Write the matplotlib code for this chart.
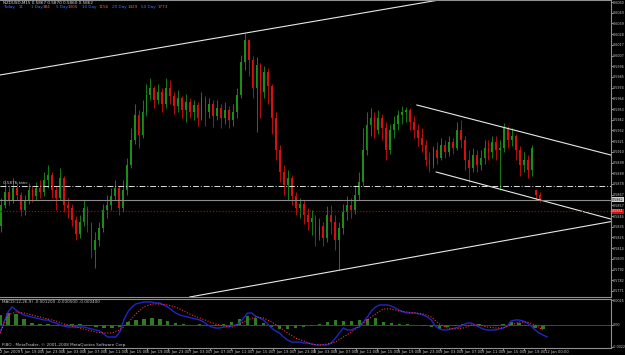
import numpy as np
import matplotlib.pyplot as plt

plt.rcParams["font.family"] = ["Liberation Sans Narrow", "DejaVu Sans"]

# NZDUSD M15 chart, one candle here = 3 M15 bars (45 min)
first_open = 0.5836
session_open = {136: 0.5872}  # Monday open after the weekend gap

close = [0.5857, 0.5870, 0.5862, 0.5874, 0.5867, 0.5852, 0.5862, 0.5872, 0.5866, 0.5874,
         0.5870, 0.5882, 0.5887, 0.5872, 0.5864, 0.5884, 0.5857, 0.5854, 0.5842, 0.5828,
         0.5840, 0.5854, 0.5837, 0.5812, 0.5822, 0.5834, 0.5852, 0.5857, 0.5866, 0.5874,
         0.5854, 0.5872, 0.5897, 0.5922, 0.5947, 0.5927, 0.5950, 0.5967, 0.5974, 0.5962,
         0.5970, 0.5958, 0.5974, 0.5966, 0.5956, 0.5964, 0.5952, 0.5960, 0.5950, 0.5957,
         0.5944, 0.5964, 0.5950, 0.5958, 0.5946, 0.5954, 0.5944, 0.5952, 0.5942, 0.5950,
         0.5967, 0.6000, 0.6022, 0.6002, 0.5974, 0.5997, 0.5970, 0.5990, 0.5976, 0.5944,
         0.5912, 0.5890, 0.5877, 0.5884, 0.5866, 0.5854, 0.5858, 0.5847, 0.5840, 0.5844,
         0.5827, 0.5836, 0.5824, 0.5847, 0.5840, 0.5822, 0.5834, 0.5850, 0.5857, 0.5852,
         0.5867, 0.5880, 0.5912, 0.5937, 0.5944, 0.5932, 0.5944, 0.5934, 0.5912, 0.5932,
         0.5938, 0.5947, 0.5950, 0.5952, 0.5940, 0.5932, 0.5924, 0.5917, 0.5902, 0.5897,
         0.5912, 0.5904, 0.5917, 0.5910, 0.5920, 0.5914, 0.5932, 0.5922, 0.5902, 0.5894,
         0.5907, 0.5897, 0.5904, 0.5914, 0.5910, 0.5920, 0.5912, 0.5914, 0.5934, 0.5922,
         0.5926, 0.5912, 0.5897, 0.5902, 0.5892, 0.5914, 0.5867, 0.5862]
high = [0.5864, 0.5882, 0.5877, 0.5884, 0.5880, 0.5870, 0.5867, 0.5879, 0.5876, 0.5880,
        0.5882, 0.5890, 0.5897, 0.5890, 0.5876, 0.5894, 0.5886, 0.5864, 0.5858, 0.5846,
        0.5847, 0.5862, 0.5856, 0.5840, 0.5830, 0.5840, 0.5858, 0.5867, 0.5874, 0.5882,
        0.5876, 0.5882, 0.5904, 0.5934, 0.5958, 0.5952, 0.5962, 0.5978, 0.5984, 0.5976,
        0.5978, 0.5974, 0.5984, 0.5982, 0.5970, 0.5972, 0.5966, 0.5968, 0.5964, 0.5962,
        0.5960, 0.5970, 0.5966, 0.5964, 0.5962, 0.5962, 0.5958, 0.5960, 0.5956, 0.5958,
        0.5974, 0.6007, 0.6029, 0.6020, 0.6006, 0.6005, 0.5999, 0.5996, 0.5994, 0.5978,
        0.5950, 0.5917, 0.5897, 0.5892, 0.5887, 0.5870, 0.5864, 0.5862, 0.5854, 0.5852,
        0.5847, 0.5844, 0.5840, 0.5856, 0.5857, 0.5847, 0.5840, 0.5858, 0.5866, 0.5864,
        0.5877, 0.5890, 0.5934, 0.5950, 0.5954, 0.5950, 0.5952, 0.5948, 0.5940, 0.5938,
        0.5946, 0.5952, 0.5956, 0.5955, 0.5954, 0.5946, 0.5938, 0.5934, 0.5922, 0.5910,
        0.5916, 0.5920, 0.5924, 0.5922, 0.5926, 0.5924, 0.5940, 0.5942, 0.5926, 0.5912,
        0.5914, 0.5912, 0.5912, 0.5922, 0.5922, 0.5926, 0.5926, 0.5922, 0.5939, 0.5936,
        0.5934, 0.5928, 0.5916, 0.5910, 0.5907, 0.5917, 0.5872, 0.5870]
low = [0.5830, 0.5854, 0.5857, 0.5859, 0.5862, 0.5846, 0.5847, 0.5858, 0.5860, 0.5862,
       0.5864, 0.5866, 0.5874, 0.5864, 0.5852, 0.5862, 0.5850, 0.5844, 0.5836, 0.5822,
       0.5824, 0.5836, 0.5830, 0.5804, 0.5794, 0.5816, 0.5830, 0.5844, 0.5852, 0.5862,
       0.5847, 0.5850, 0.5867, 0.5894, 0.5918, 0.5914, 0.5924, 0.5946, 0.5962, 0.5954,
       0.5958, 0.5950, 0.5954, 0.5958, 0.5948, 0.5950, 0.5944, 0.5940, 0.5944, 0.5942,
       0.5936, 0.5942, 0.5936, 0.5944, 0.5935, 0.5942, 0.5934, 0.5938, 0.5934, 0.5936,
       0.5944, 0.5964, 0.5992, 0.5986, 0.5964, 0.5930, 0.5944, 0.5964, 0.5958, 0.5928,
       0.5902, 0.5880, 0.5867, 0.5862, 0.5857, 0.5847, 0.5844, 0.5838, 0.5832, 0.5827,
       0.5816, 0.5822, 0.5816, 0.5820, 0.5828, 0.5812, 0.5792, 0.5828, 0.5842, 0.5844,
       0.5848, 0.5862, 0.5876, 0.5907, 0.5926, 0.5924, 0.5928, 0.5922, 0.5902, 0.5908,
       0.5924, 0.5932, 0.5938, 0.5940, 0.5932, 0.5924, 0.5916, 0.5910, 0.5896, 0.5890,
       0.5894, 0.5898, 0.5902, 0.5904, 0.5906, 0.5908, 0.5912, 0.5914, 0.5892, 0.5880,
       0.5890, 0.5890, 0.5892, 0.5898, 0.5902, 0.5904, 0.5902, 0.5872, 0.5910, 0.5914,
       0.5916, 0.5902, 0.5886, 0.5890, 0.5884, 0.5886, 0.5862, 0.5860]

# MACD(12,26,9) in points (1e-5); main line every 4 px, signal and histogram every 8 px
macd_pts = [-80, 30, 130, 180, 150, 120, 100, 90, 80, 70, 60, 50, 50, 30, 20, 0, -10, -20,
            -20, -20, -20, -20, -30, -40, -50, -60, -90, -120, -120, -120, -70, 50, 130, 180,
            210, 220, 230, 230, 230, 220, 220, 200, 180, 150, 120, 100, 90, 80, 70, 60, 50,
            30, 0, -20, -30, -30, -20, -20, -10, 0, 20, 70, 120, 120, 90, 70, 50, 10, -30,
            -60, -80, -120, -150, -170, -170, -170, -180, -180, -190, -200, -200, -200, -200,
            -180, -130, -80, -30, -50, -50, -30, -20, 30, 80, 140, 180, 200, 200, 200, 190,
            170, 150, 130, 120, 120, 120, 110, 100, 80, 50, -10, -40, -50, -50, -40, -30,
            -20, 0, 20, 20, 0, -20, -40, -50, -50, -50, -40, -30, -10, 40, 50, 50, 40, 20,
            -10, -50, -80, -100, -120]
signal_pts = [-80, 100, 130, 120, 100, 80, 60, 40, 10, -10, -30, -50, -70, -80, -80, -50,
              20, 110, 180, 210, 210, 200, 180, 140, 100, 70, 40, 10, -10, -20, 10, 50, 80,
              70, 30, -20, -80, -130, -160, -190, -200, -190, -170, -120, -70, -10, 50, 110,
              160, 160, 140, 130, 120, 110, 80, 10, -30, -40, -30, 0, 0, -20, -30, -30, 0,
              30, 30, 0, -50]
hist_pts = [100, 120, 110, 60, 20, 10, 10, 0, -10, 10, 10, -10, -20, -30, -30, -20, 30, 50,
            60, 70, 60, 40, 20, 10, 0, 10, -10, -10, 10, 30, 60, 90, 70, 20, -20, -40, -40,
            -30, -20, -10, 10, 30, 50, 40, 40, 50, 60, 70, 30, 20, 10, 10, 0, -10, -20, -40,
            -20, -10, 10, 0, 10, 0, -10, 10, 30, 20, 0, -30, -40]

time_labels = ["2 Jan 2009", "5 Jan 19:00", "5 Jan 23:00", "6 Jan 03:00", "6 Jan 07:00",
               "6 Jan 11:00", "6 Jan 15:00", "6 Jan 19:00", "6 Jan 23:00", "7 Jan 03:00",
               "7 Jan 07:00", "7 Jan 11:00", "7 Jan 15:00", "7 Jan 19:00", "7 Jan 23:00",
               "8 Jan 03:00", "8 Jan 07:00", "8 Jan 11:00", "8 Jan 15:00", "8 Jan 19:00",
               "8 Jan 23:00", "9 Jan 03:00", "9 Jan 07:00", "9 Jan 11:00", "9 Jan 15:00",
               "9 Jan 19:00", "12 Jan 00:00"]
range_names = ["Today", "1 Day", "5 Day", "10 Day", "20 Day", "50 Day"]
range_values = ["11", "384", "1305", "1156", "1429", "1773"]
macd_ticks = [0.0025, 0.0, -0.0022]
macd_tick_labels = ["0.0025", "0.00", "-0.0022"]

bid_price = 0.5862
dashdot_level = 0.5876
red_level = 0.5851
rise_top = [(-0.25, 0.5987), (111.4, 0.6062)]
rise_bottom = [(48.0, 0.5765), (154.6, 0.5840)]
chan_top = [(105.8, 0.5957), (155.1, 0.5907)]
chan_bottom = [(110.7, 0.5890), (155.1, 0.5843)]

W, H = 625, 355
px = 3 * 21 / 16  # pixels per candle
green, red = "#189018", "#d41010"
fg = "#c8c8c8"
fs = 3.0
fs_axis = 2.4

fig = plt.figure(figsize=(W / 100, H / 100), dpi=100, facecolor="black")
ax = fig.add_axes([0, 1 - 297 / H, 611 / W, 297 / H], facecolor="black")
ax2 = fig.add_axes([0, 1 - 348 / H, 611 / W, 49 / H], facecolor="black")

# candles
c = np.array(close)
h = np.array(high)
l = np.array(low)
o = np.r_[first_open, c[:-1]]
for k, v in session_open.items():
    o[k] = v
h = np.maximum(h, np.maximum(o, c))
l = np.minimum(l, np.minimum(o, c))
x = np.arange(len(c))
cols = np.where(c >= o, green, red)
ax.vlines(x, l, h, colors=cols, lw=0.6)
ax.bar(x, np.maximum(np.abs(c - o), 0.00006), bottom=np.minimum(o, c), width=0.45,
       color=cols, linewidth=0)

# trend lines and levels
ax.axline(rise_top[0], rise_top[1], color="#e8e8e8", lw=0.8)
ax.axline(rise_bottom[0], rise_bottom[1], color="#e8e8e8", lw=0.8)
for seg in (chan_top, chan_bottom):
    ax.plot([seg[0][0], seg[1][0]], [seg[0][1], seg[1][1]], color="#e8e8e8", lw=0.8)
ax.axhline(dashdot_level, color="#e0e0e0", lw=0.7, dashes=(6, 2, 1, 2))
ax.axhline(bid_price, color="#8c8c8c", lw=0.8)
ax.axhline(red_level, color="#b00000", lw=0.9, ls=(0, (1, 1.5)))
ax.text(0.5, dashdot_level + 0.00005, f"{dashdot_level:.4f} tanc", color=fg, fontsize=fs,
        va="bottom")

ax.set_xlim(-1 / px, 611 / px)
ax.set_ylim(0.6062 - 0.0297, 0.6062)
ticks = 0.6060 - 0.00107 * np.arange(28)
ax.yaxis.tick_right()
ax.set_yticks(ticks)
ax.set_yticklabels([f"{t:.4f}" for t in ticks])
ax.tick_params(axis="y", colors=fg, labelsize=fs_axis, length=1.2, width=0.5, pad=0.3)
ax.set_xticks([])
ax.spines["left"].set_visible(False)
for s in ("top", "right", "bottom"):
    ax.spines[s].set_color("#909090")
    ax.spines[s].set_linewidth(0.8)

# price boxes on the axis
ax.text(1.002, (bid_price - 0.5765) / 0.0297, f"{bid_price:.4f}", transform=ax.transAxes,
        fontsize=fs_axis, color="black", va="center", ha="left",
        bbox=dict(boxstyle="square,pad=0.15", fc="#d0d0d0", ec="none"))
ax.text(1.002, (red_level - 0.5765) / 0.0297, f"{red_level:.4f}", transform=ax.transAxes,
        fontsize=fs_axis, color="white", va="center", ha="left",
        bbox=dict(boxstyle="square,pad=0.15", fc="#d01010", ec="none"))

# MACD pane
mx = (4 * np.arange(len(macd_pts)) - 1) / px
sx = (8 * np.arange(len(signal_pts)) - 1) / px
hx = (8 * np.arange(len(hist_pts)) - 1) / px
macd = np.array(macd_pts) * 1e-5
signal = np.array(signal_pts) * 1e-5
hist = np.array(hist_pts) * 1e-5
ax2.bar(hx, hist, width=0.9, color="#2f7a22", linewidth=0)
ax2.axhline(0, color="#2a6a1c", lw=0.6)
ax2.plot(mx, macd, color="#2424c8", lw=1.0)
ax2.plot(sx, signal, color="#ff3030", lw=0.8, ls=(0, (1, 1.5)))
ax2.set_xlim(ax.get_xlim())
ax2.set_ylim(-0.0023, 0.0026)
ax2.yaxis.tick_right()
ax2.set_yticks(macd_ticks)
ax2.set_yticklabels(macd_tick_labels)
ax2.tick_params(axis="y", colors=fg, labelsize=fs_axis, length=1.2, width=0.5, pad=0.3)
tpos = (21 * np.arange(len(time_labels)) - 1) / px
ax2.set_xticks(tpos)
ax2.set_xticklabels(time_labels)
ax2.tick_params(axis="x", colors=fg, labelsize=2.7, length=1.5, width=0.5, pad=0.3)
for lab in ax2.get_xticklabels():
    lab.set_ha("left")
ax2.spines["left"].set_visible(False)
for s in ("top", "right", "bottom"):
    ax2.spines[s].set_color("#909090")
    ax2.spines[s].set_linewidth(0.8)
ax2.text(0.004, 0.97, f"MACD(12,26,9) {macd[-1]:.6f} {signal[-1]:.6f} {hist[-1]:.6f}",
         transform=ax2.transAxes, color=fg, fontsize=fs, va="top")
ax2.text(0.004, 0.03, "FIBO - MetaTrader, \u00a9 2001-2008 MetaQuotes Software Corp.",
         transform=ax2.transAxes, color=fg, fontsize=fs, va="bottom")

# header texts
fig.text(3 / W, 1 - 1 / H, f"NZDUSD,M15 {o[-1]:.4f} {h[-1]:.4f} {l[-1]:.4f} {c[-1]:.4f}",
         color="#e0e0e0", fontsize=fs, va="top")
xs = [3, 19, 31, 43, 56, 68, 82, 99, 112, 128, 141, 158]
for i, (nm, val) in enumerate(zip(range_names, range_values)):
    fig.text(xs[2 * i] / W, 1 - 5 / H, nm, color="#3c78ff", fontsize=fs, va="top")
    fig.text(xs[2 * i + 1] / W, 1 - 5 / H, val, color="#3c78ff" if i == 0 else "#ff5a3c",
             fontsize=fs, va="top")

fig.savefig("out.png", dpi=100, facecolor="black")
